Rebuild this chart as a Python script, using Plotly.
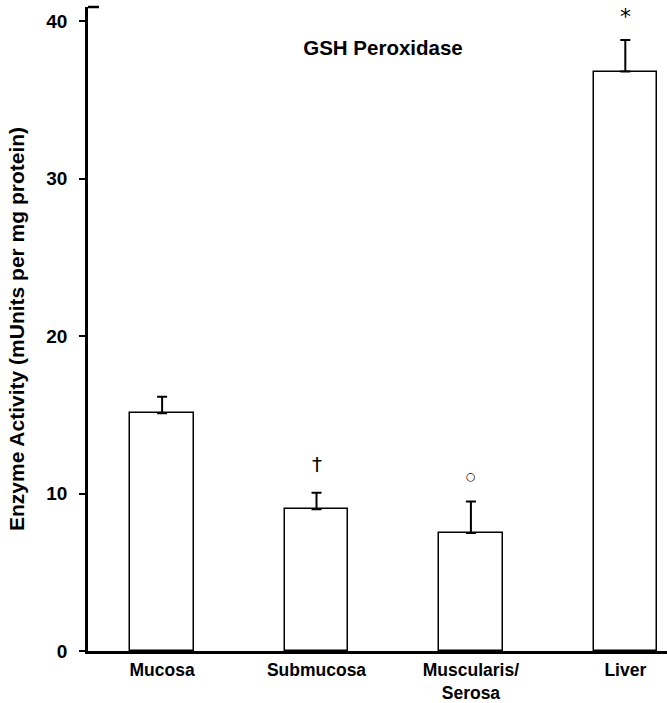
import plotly.graph_objects as go

categories = ["Mucosa", "Submucosa", "Muscularis/<br>Serosa", "Liver"]
values = [15.1, 9.0, 7.5, 36.8]
errors = [1.05, 1.05, 2.0, 2.0]
markers = ["", "†", "○", "*"]
marker_y = [None, 11.9, 11.1, 40.3]
marker_size = [0, 20, 11, 22]
y_ticks = [0, 10, 20, 30, 40]

FONT = "Liberation Sans, Arial, Helvetica, sans-serif"

fig = go.Figure()
fig.add_trace(go.Bar(
    x=list(range(len(categories))),
    y=values,
    width=0.41,
    marker=dict(color="white", line=dict(color="black", width=1.5)),
    error_y=dict(type="data", array=errors, arrayminus=[0] * len(errors),
                 symmetric=False, color="black", thickness=2, width=5),
    showlegend=False,
))

for i, (m, my, ms) in enumerate(zip(markers, marker_y, marker_size)):
    if m:
        fig.add_annotation(x=i, y=my, text=m, showarrow=False,
                           font=dict(family="DejaVu Sans, sans-serif", size=ms, color="black"),
                           xanchor="center", yanchor="middle")

# short cap at top of y axis
fig.add_shape(type="line", xref="paper", yref="paper", x0=0, x1=0.019, y0=1, y1=1,
              line=dict(color="black", width=2.5))

fig.update_layout(
    width=667, height=703,
    margin=dict(l=88, r=0, t=7, b=52, autoexpand=False),
    paper_bgcolor="white", plot_bgcolor="white",
    font=dict(family=FONT, color="black"),
    title=dict(text="GSH Peroxidase", x=0.5095, xref="paper", xanchor="center",
               y=1 - 48 / 703, yref="container", yanchor="middle",
               font=dict(family=FONT, size=20.5, weight="bold", color="black")),
    bargap=0,
)
fig.update_xaxes(
    range=[-0.48, 3.27], automargin=False,
    tickmode="array", tickvals=list(range(len(categories))), ticktext=categories,
    tickfont=dict(family=FONT, size=17.5, weight="bold", color="black"),
    showline=True, linecolor="black", linewidth=2.5,
    ticks="", showgrid=False, zeroline=False, ticklabelstandoff=1,
)
fig.update_yaxes(
    range=[0, 40.9], automargin=False,
    tickmode="array", tickvals=y_ticks,
    tickfont=dict(family=FONT, size=19, weight="bold", color="black"),
    showline=True, linecolor="black", linewidth=2.5,
    ticks="outside", ticklen=6, tickwidth=2, tickcolor="black",
    showgrid=False, zeroline=False, ticklabelstandoff=8,
    title=dict(text="Enzyme Activity (mUnits per mg protein)",
               font=dict(family=FONT, size=21, weight="bold", color="black"),
               standoff=16),
)

fig.write_html("out.html")
